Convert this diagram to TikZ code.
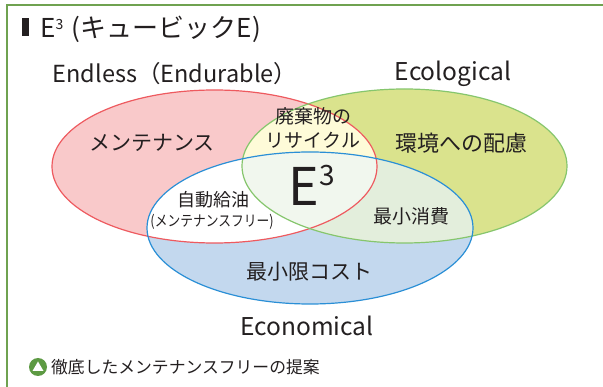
\documentclass[tikz,border=0pt]{standalone}
\usepackage{fontspec}
\setmainfont{Noto Sans CJK JP}
\definecolor{frame}{HTML}{6FA250}
\definecolor{txt}{HTML}{231F20}
\definecolor{pinkF}{HTML}{F9C9CA}
\definecolor{greenF}{HTML}{DAE38D}
\definecolor{blueF}{HTML}{C3D8EE}
\definecolor{yelF}{HTML}{FEFBD8}
\definecolor{gbF}{HTML}{E3EEDC}
\definecolor{allF}{HTML}{F1F7EE}
\definecolor{redS}{HTML}{EE5A5F}
\definecolor{greenS}{HTML}{86C66D}
\definecolor{blueS}{HTML}{2A8FD6}
\definecolor{iconG}{HTML}{5D9A43}
\begin{document}
\begin{tikzpicture}[x=1pt,y=-1pt,
  lbl/.style={text=txt,inner sep=0pt,font=#1},
  lbl/.default={\fontsize{20}{22}\selectfont}]
\useasboundingbox (0,0) rectangle (603,387);
\fill[white] (0,0) rectangle (603,387);
% frame
\draw[frame,line width=2pt] (7,387) -- (7,5) -- (603,5);
% ellipse fills
\def\redE{(214.5,166.5) ellipse [x radius=162.5pt, y radius=76.5pt]}
\def\greenE{(404.5,166) ellipse [x radius=162.5pt, y radius=77pt]}
\def\blueE{(310,228) ellipse [x radius=163pt, y radius=76pt]}
\fill[pinkF] \redE;
\fill[greenF] \greenE;
\begin{scope}\clip \redE; \fill[yelF] \greenE; \end{scope}
\fill[blueF] \blueE;
\begin{scope}\clip \blueE; \fill[white] \redE; \end{scope}
\begin{scope}\clip \blueE; \fill[gbF] \greenE; \end{scope}
\begin{scope}\clip \blueE; \clip \redE; \fill[allF] \greenE; \end{scope}
\draw[redS,line width=1.2pt] \redE;
\draw[greenS,line width=1.2pt] \greenE;
\draw[blueS,line width=1.2pt] \blueE;
% title
\fill[txt] (21.5,18.5) rectangle (29,36.5);
\node[lbl={\fontsize{26}{28}\selectfont},anchor=west] (title) at (40,29) {E\raisebox{0.55ex}{\fontsize{14}{14}\selectfont 3}\,\,(キュービックE)};
% category labels
\node[lbl={\fontsize{23.5}{26}\selectfont}] (endless) at (175,74) {Endless（Endurable）};
\node[lbl={\fontsize{24.5}{26}\selectfont}] (eco) at (453,74) {Ecological};
\node[lbl={\fontsize{24.5}{26}\selectfont}] (econ) at (307,326) {Economical};
% region labels
\node[lbl={\fontsize{21}{23}\selectfont}] (maint) at (152,143) {メンテナンス};
\node[lbl={\fontsize{22}{24}\selectfont}] (env) at (461,143) {環境への配慮};
\node[lbl={\fontsize{19}{24}\selectfont},align=center] (recyc) at (313,128) {廃棄物の\\リサイクル};
\node[lbl={\fontsize{52}{52}\selectfont}] (e3) at (312,185) {E\raisebox{0.7ex}{\fontsize{28}{28}\selectfont 3}};
\node[lbl={\fontsize{18}{20}\selectfont}] (auto) at (213,200) {自動給油};
\node[lbl={\fontsize{15}{17}\selectfont}] (free) at (212,222) {\scalebox{0.85}[1]{(メンテナンスフリー)}};
\node[lbl={\fontsize{19}{21}\selectfont}] (minc) at (411,216) {最小消費};
\node[lbl={\fontsize{21}{23}\selectfont}] (mincost) at (309,272) {最小限コスト};
% footer
\fill[iconG] (38,367) circle [radius=9pt];
\fill[white] (38,361.5) -- (43.5,371) -- (32.5,371) -- cycle;
\node[lbl={\fontsize{16.8}{19}\selectfont},anchor=west] (foot) at (51,367) {徹底したメンテナンスフリーの提案};
\end{tikzpicture}
\end{document}
